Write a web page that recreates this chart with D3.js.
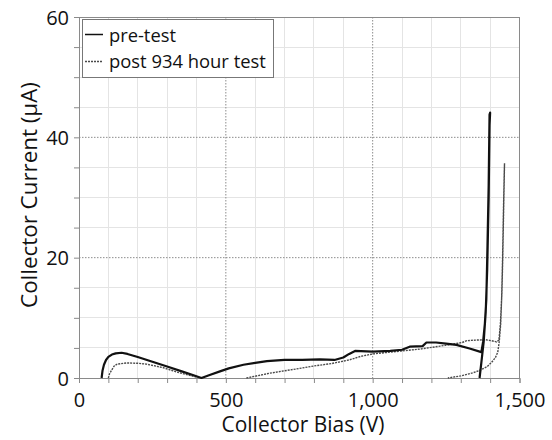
<!DOCTYPE html>
<html><head><meta charset="utf-8">
<script src="https://cdn.jsdelivr.net/npm/d3@7"></script>
<style>
html,body{margin:0;padding:0;background:#fff;}
svg{display:block;font-family:"Open Sans",sans-serif;}
</style></head>
<body><svg id="c" width="552" height="440"></svg>
<script>
// ---- data ----
const xTicks = [0, 500, 1000, 1500];
const yTicks = [0, 20, 40, 60];
const seriesNames = ["pre-test", "post 934 hour test"];
// pre-test: [bias V, current uA]
const preTest = [
  [77,0],[80,1.2],[85,2.2],[92,3.0],[100,3.5],[112,3.9],[125,4.1],[145,4.2],[165,4.0],
  [200,3.5],[250,2.7],[300,1.9],[350,1.1],[390,0.45],[417,0],[445,0.5],[480,1.1],[510,1.6],
  [560,2.2],[600,2.5],[640,2.8],[700,3.0],[760,3.0],[820,3.1],[870,3.0],[900,3.4],[920,4.0],
  [940,4.5],[1000,4.4],[1060,4.5],[1100,4.7],[1126,5.2],[1170,5.3],[1183,5.9],[1216,5.9],
  [1250,5.7],[1285,5.5],[1330,4.9],[1370,4.3],[1376,6],[1382,9],[1387,13],[1391,22],
  [1395,32],[1397,40],[1398,43.8],[1400,44.1],[1398,42],[1395,30],[1390,18],[1385,11],
  [1378,6],[1370,2.5],[1364,0]
];
// post 934 hour test, low-bias hump
const postTestA = [
  [100,0],[104,0.7],[111,1.3],[120,2.0],[130,2.3],[162,2.5],[200,2.45],[230,2.3],
  [260,2.0],[287,1.7],[320,1.2],[343,0.85],[380,0.4],[410,0.05]
];
// post 934 hour test, high-bias loop
const postTestB = [
  [570,0],[610,0.4],[650,0.8],[700,1.2],[740,1.5],[800,2.0],[860,2.4],[920,3.0],[960,3.6],
  [1000,4.0],[1050,4.25],[1100,4.5],[1160,4.8],[1230,5.3],[1270,5.6],[1305,5.9],[1320,6.2],
  [1350,6.3],[1385,6.35],[1405,6.2],[1422,6.0],[1430,6.3],[1435,9],[1438,12],[1440,14],
  [1443,20],[1446,28],[1448,33],[1449,35.7],[1448,34],[1445,27],[1442,19],[1439,13],
  [1436,9],[1431,6],[1426,4.3],[1418,3.4],[1405,2.6],[1390,1.9],[1364,1.25],[1340,0.85],
  [1300,0.35],[1256,0]
];

// ---- layout ----
const svg = d3.select("#c");
const L = 79, R = 519.5, T = 17, B = 378;
const x = d3.scaleLinear().domain([0, 1500]).range([L, R]);
const y = d3.scaleLinear().domain([0, 60]).range([B, T]);
const axisColor = "#8a8a8a";
const textColor = "#111";

// minor grid
const g = svg.append("g");
g.selectAll("line.mx").data(d3.range(100, 1500, 100).filter(v => v % 500)).join("line")
  .attr("x1", d => x(d)).attr("x2", d => x(d)).attr("y1", T).attr("y2", B)
  .attr("stroke", "#e4e4e4").attr("stroke-width", 1).attr("shape-rendering", "crispEdges");
g.selectAll("line.my").data(d3.range(5, 60, 5).filter(v => v % 20)).join("line")
  .attr("y1", d => y(d)).attr("y2", d => y(d)).attr("x1", L).attr("x2", R)
  .attr("stroke", "#e4e4e4").attr("stroke-width", 1).attr("shape-rendering", "crispEdges");
// major grid (dotted)
g.selectAll("line.Mx").data(xTicks.filter(v => v > 0 && v < 1500)).join("line")
  .attr("x1", d => x(d)).attr("x2", d => x(d)).attr("y1", T).attr("y2", B)
  .attr("stroke", "#8c8c8c").attr("stroke-dasharray", "1.5,1.5").attr("stroke-width", 1);
g.selectAll("line.My").data(yTicks.filter(v => v > 0 && v < 60)).join("line")
  .attr("y1", d => y(d)).attr("y2", d => y(d)).attr("x1", L).attr("x2", R)
  .attr("stroke", "#8c8c8c").attr("stroke-dasharray", "1.5,1.5").attr("stroke-width", 1);

// frame top/right
svg.append("line").attr("x1", L).attr("x2", R).attr("y1", T).attr("y2", T)
  .attr("stroke", axisColor).attr("shape-rendering", "crispEdges");
svg.append("line").attr("x1", R).attr("x2", R).attr("y1", T).attr("y2", B)
  .attr("stroke", axisColor).attr("shape-rendering", "crispEdges");

// axes
const fmt = d3.format(",");
const xAxis = d3.axisBottom(x).tickValues(d3.range(0, 1501, 100)).tickSize(5)
  .tickFormat(d => xTicks.includes(d) ? fmt(d) : "");
const gx = svg.append("g").attr("transform", `translate(0,${B})`).call(xAxis);
gx.select(".domain").attr("stroke", axisColor);
gx.selectAll(".tick line").attr("stroke", axisColor);
gx.selectAll(".tick text").attr("y", 29).attr("dy", 0)
  .attr("font-family", "Open Sans").attr("font-size", 20).attr("fill", textColor);

const yAxis = d3.axisLeft(y).tickValues(d3.range(0, 61, 5)).tickSize(5)
  .tickFormat(d => yTicks.includes(d) ? d : "");
const gy = svg.append("g").attr("transform", `translate(${L},0)`).call(yAxis);
gy.select(".domain").attr("stroke", axisColor);
gy.selectAll(".tick line").attr("stroke", axisColor);
gy.selectAll(".tick text").attr("x", -10).attr("dy", "0.36em")
  .attr("font-family", "Open Sans").attr("font-size", 20).attr("fill", textColor);

// series
const line = d3.line().x(d => x(d[0])).y(d => y(d[1]));
const postStyle = s => s.attr("fill", "none").attr("stroke", "#4a4a4a")
  .attr("stroke-width", 1.4).attr("stroke-dasharray", "2,1");
svg.append("path").datum(postTestA).attr("d", line).call(postStyle);
svg.append("path").datum(postTestB).attr("d", line).call(postStyle);
svg.append("path").datum(preTest).attr("d", line)
  .attr("fill", "none").attr("stroke", "#111").attr("stroke-width", 2.2)
  .attr("stroke-linejoin", "round");

// fit helper
function fit(t, base, target) {
  t.attr("font-size", base);
  const w = t.node().getComputedTextLength();
  if (w > 0) t.attr("font-size", base * target / w);
}

// axis titles
const xt = svg.append("text").attr("x", 303).attr("y", 432).attr("text-anchor", "middle")
  .attr("fill", textColor).text("Collector Bias (V)");
fit(xt, 21, 163);
const yt = svg.append("text").attr("transform", "translate(37,195) rotate(-90)")
  .attr("text-anchor", "middle").attr("fill", textColor).text("Collector Current (\u00b5A)");
fit(yt, 21, 226);

// legend
const lg = svg.append("g");
lg.append("rect").attr("x", 82.5).attr("y", 19.5).attr("width", 191).attr("height", 58)
  .attr("fill", "#fff").attr("stroke", "#777").attr("stroke-width", 1);
lg.append("line").attr("x1", 85).attr("x2", 103).attr("y1", 34.5).attr("y2", 34.5)
  .attr("stroke", "#111").attr("stroke-width", 1.5);
lg.append("line").attr("x1", 85).attr("x2", 103).attr("y1", 61.5).attr("y2", 61.5)
  .call(postStyle);
const l1 = lg.append("text").attr("x", 109).attr("y", 41.5).attr("fill", textColor).text(seriesNames[0]);
fit(l1, 18, 67);
const l2 = lg.append("text").attr("x", 109).attr("y", 68).attr("fill", textColor).text(seriesNames[1]);
fit(l2, 18, 157);
</script></body></html>
